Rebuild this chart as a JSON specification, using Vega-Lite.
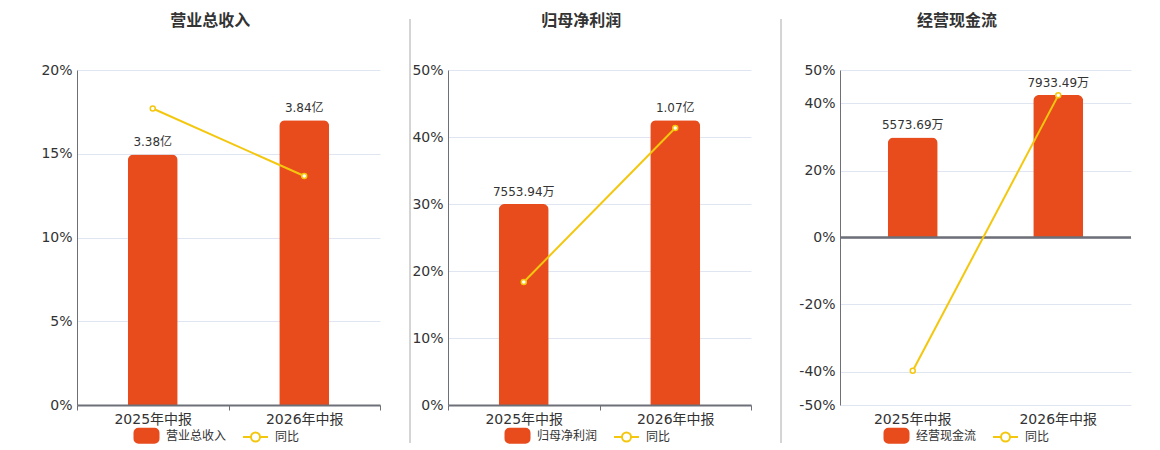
{
  "$schema": "https://vega.github.io/schema/vega-lite/v6.json",
  "background": "white",
  "padding": {"top": 13, "left": 40, "right": 0, "bottom": 0},
  "spacing": 0,
  "columns": 5,
  "align": "none",
  "config": {
    "font": "DejaVu Sans, Noto Sans CJK SC",
    "view": {"stroke": null},
    "title": {"font": "Noto Sans CJK SC", "fontSize": 16, "fontWeight": "bold", "color": "#333333", "anchor": "middle", "frame": "bounds", "offset": 34},
    "axis": {"labelFontSize": 14, "labelColor": "#333333", "title": null}
  },
  "resolve": {"scale": {"color": "independent"}, "legend": {"color": "independent"}},
  "concat": [
    {
      "title": "营业总收入",
      "width": 303,
      "height": 335,
      "data": {"values": [
        {"period": "2025年中报", "value": 3.38, "label": "3.38亿", "yoy": 0.177},
        {"period": "2026年中报", "value": 3.84, "label": "3.84亿", "yoy": 0.1367}
      ]},
      "layer": [
        {
          "layer": [
            {
              "mark": {"type": "bar", "size": 50, "color": "#E84B1C", "cornerRadiusTopLeft": 6, "cornerRadiusTopRight": 6},
              "encoding": {
                "x": {"field": "period", "type": "nominal", "sort": null, "scale": {"paddingInner": 0, "paddingOuter": 0},
                  "axis": {"labelAngle": 0, "domainColor": "#6E7079", "domainWidth": 2, "tickColor": "#6E7079", "tickSize": 5, "tickBand": "extent", "labelPadding": 2, "zindex": 1}},
                "y": {"field": "value", "type": "quantitative", "scale": {"domain": [0, 4.518], "nice": false}, "axis": null},
                "color": {"datum": "营业总收入", "scale": {"domain": ["营业总收入", "同比"], "range": ["#E84B1C", "#F4C70F"]},
                  "legend": {"title": null, "orient": "none", "legendX": 56, "legendY": 352, "direction": "horizontal", "labelFontSize": 12, "labelColor": "#333333", "labelFont": "Noto Sans CJK SC", "symbolSize": 625, "labelOffset": 6, "columnPadding": 12,
                    "encode": {"symbols": {"update": {
                      "shape": {"signal": "datum.value === '同比' ? 'M-1,0H-0.36M0.36,0H1M0.36,0A0.36,0.36,0,1,1,-0.36,0A0.36,0.36,0,1,1,0.36,0ZM0.36,0A0.36,0.36,0,1,0,-0.36,0A0.36,0.36,0,1,0,0.36,0Z' : 'M-0.64,-0.56H0.64A0.32,0.32,0,0,1,0.96,-0.24V0.24A0.32,0.32,0,0,1,0.64,0.56H-0.64A0.32,0.32,0,0,1,-0.96,0.24V-0.24A0.32,0.32,0,0,1,-0.64,-0.56Z'"},
                      "fill": {"signal": "datum.value === '同比' ? '#ffffff' : '#E84B1C'"},
                      "stroke": {"signal": "datum.value === '同比' ? '#F4C70F' : '#E84B1C'"},
                      "strokeWidth": {"value": 2},
                      "size": {"value": 625},
                      "opacity": {"value": 1}
                    }}}}}
              }
            },
            {
              "mark": {"type": "text", "dy": -5, "baseline": "bottom", "fontSize": 12, "color": "#333333"},
              "encoding": {
                "x": {"field": "period", "type": "nominal", "sort": null},
                "y": {"field": "value", "type": "quantitative"},
                "text": {"field": "label"}
              }
            }
          ]
        },
        {
          "mark": {"type": "line", "strokeWidth": 2, "point": {"filled": false, "fill": "white", "size": 25, "strokeWidth": 1.5}},
          "encoding": {
            "x": {"field": "period", "type": "nominal", "sort": null},
            "y": {"field": "yoy", "type": "quantitative", "scale": {"domain": [0, 0.2], "nice": false},
              "axis": {"orient": "left", "grid": true, "values": [0, 0.05, 0.1, 0.15, 0.2], "labelExpr": "round(datum.value * 100) + '%'", "ticks": false, "domainColor": "#6E7079", "gridColor": "#E0E6F1", "labelPadding": 5, "minExtent": 37}},
            "color": {"datum": "同比"}
          }
        }
      ],
      "resolve": {"scale": {"y": "independent"}}
    },
    {
      "width": 29,
      "height": 373,
      "data": {"values": [{"top": 1.1367, "bottom": 0}]},
      "mark": {"type": "rule", "color": "#AAAAAA", "strokeWidth": 1},
      "encoding": {
        "x": {"datum": 1, "type": "quantitative", "scale": {"domain": [0, 1], "nice": false}, "axis": null},
        "y": {"field": "top", "type": "quantitative", "scale": {"domain": [0, 1], "nice": false}, "axis": null},
        "y2": {"field": "bottom"}
      }
    },
    {
      "title": "归母净利润",
      "width": 303,
      "height": 335,
      "data": {"values": [
        {"period": "2025年中报", "value": 7553.94, "label": "7553.94万", "yoy": 0.1836},
        {"period": "2026年中报", "value": 10700, "label": "1.07亿", "yoy": 0.4134}
      ]},
      "layer": [
        {
          "layer": [
            {
              "mark": {"type": "bar", "size": 50, "color": "#E84B1C", "cornerRadiusTopLeft": 6, "cornerRadiusTopRight": 6},
              "encoding": {
                "x": {"field": "period", "type": "nominal", "sort": null, "scale": {"paddingInner": 0, "paddingOuter": 0},
                  "axis": {"labelAngle": 0, "domainColor": "#6E7079", "domainWidth": 2, "tickColor": "#6E7079", "tickSize": 5, "tickBand": "extent", "labelPadding": 2, "zindex": 1}},
                "y": {"field": "value", "type": "quantitative", "scale": {"domain": [0, 12588], "nice": false}, "axis": null},
                "color": {"datum": "归母净利润", "scale": {"domain": ["归母净利润", "同比"], "range": ["#E84B1C", "#F4C70F"]},
                  "legend": {"title": null, "orient": "none", "legendX": 56, "legendY": 352, "direction": "horizontal", "labelFontSize": 12, "labelColor": "#333333", "labelFont": "Noto Sans CJK SC", "symbolSize": 625, "labelOffset": 6, "columnPadding": 12,
                    "encode": {"symbols": {"update": {
                      "shape": {"signal": "datum.value === '同比' ? 'M-1,0H-0.36M0.36,0H1M0.36,0A0.36,0.36,0,1,1,-0.36,0A0.36,0.36,0,1,1,0.36,0ZM0.36,0A0.36,0.36,0,1,0,-0.36,0A0.36,0.36,0,1,0,0.36,0Z' : 'M-0.64,-0.56H0.64A0.32,0.32,0,0,1,0.96,-0.24V0.24A0.32,0.32,0,0,1,0.64,0.56H-0.64A0.32,0.32,0,0,1,-0.96,0.24V-0.24A0.32,0.32,0,0,1,-0.64,-0.56Z'"},
                      "fill": {"signal": "datum.value === '同比' ? '#ffffff' : '#E84B1C'"},
                      "stroke": {"signal": "datum.value === '同比' ? '#F4C70F' : '#E84B1C'"},
                      "strokeWidth": {"value": 2},
                      "size": {"value": 625},
                      "opacity": {"value": 1}
                    }}}}}
              }
            },
            {
              "mark": {"type": "text", "dy": -5, "baseline": "bottom", "fontSize": 12, "color": "#333333"},
              "encoding": {
                "x": {"field": "period", "type": "nominal", "sort": null},
                "y": {"field": "value", "type": "quantitative"},
                "text": {"field": "label"}
              }
            }
          ]
        },
        {
          "mark": {"type": "line", "strokeWidth": 2, "point": {"filled": false, "fill": "white", "size": 25, "strokeWidth": 1.5}},
          "encoding": {
            "x": {"field": "period", "type": "nominal", "sort": null},
            "y": {"field": "yoy", "type": "quantitative", "scale": {"domain": [0, 0.5], "nice": false},
              "axis": {"orient": "left", "grid": true, "values": [0, 0.1, 0.2, 0.3, 0.4, 0.5], "labelExpr": "round(datum.value * 100) + '%'", "ticks": false, "domainColor": "#6E7079", "gridColor": "#E0E6F1", "labelPadding": 5, "minExtent": 37}},
            "color": {"datum": "同比"}
          }
        }
      ],
      "resolve": {"scale": {"y": "independent"}}
    },
    {
      "width": 29,
      "height": 373,
      "data": {"values": [{"top": 1.1367, "bottom": 0}]},
      "mark": {"type": "rule", "color": "#AAAAAA", "strokeWidth": 1},
      "encoding": {
        "x": {"datum": 1, "type": "quantitative", "scale": {"domain": [0, 1], "nice": false}, "axis": null},
        "y": {"field": "top", "type": "quantitative", "scale": {"domain": [0, 1], "nice": false}, "axis": null},
        "y2": {"field": "bottom"}
      }
    },
    {
      "title": "经营现金流",
      "width": 291,
      "height": 335,
      "data": {"values": [
        {"period": "2025年中报", "value": 5573.69, "label": "5573.69万", "yoy": -0.398},
        {"period": "2026年中报", "value": 7933.49, "label": "7933.49万", "yoy": 0.4243}
      ]},
      "layer": [
        {
          "layer": [
            {
              "mark": {"type": "bar", "size": 50, "color": "#E84B1C", "cornerRadiusTopLeft": 6, "cornerRadiusTopRight": 6},
              "encoding": {
                "x": {"field": "period", "type": "nominal", "sort": null, "scale": {"paddingInner": 0, "paddingOuter": 0},
                  "axis": {"labelAngle": 0, "domain": false, "ticks": false, "labelPadding": 7}},
                "y": {"field": "value", "type": "quantitative", "scale": {"domain": [-9333.5, 9333.5], "nice": false}, "axis": null},
                "color": {"datum": "经营现金流", "scale": {"domain": ["经营现金流", "同比"], "range": ["#E84B1C", "#F4C70F"]},
                  "legend": {"title": null, "orient": "none", "legendX": 43, "legendY": 352, "direction": "horizontal", "labelFontSize": 12, "labelColor": "#333333", "labelFont": "Noto Sans CJK SC", "symbolSize": 625, "labelOffset": 6, "columnPadding": 12,
                    "encode": {"symbols": {"update": {
                      "shape": {"signal": "datum.value === '同比' ? 'M-1,0H-0.36M0.36,0H1M0.36,0A0.36,0.36,0,1,1,-0.36,0A0.36,0.36,0,1,1,0.36,0ZM0.36,0A0.36,0.36,0,1,0,-0.36,0A0.36,0.36,0,1,0,0.36,0Z' : 'M-0.64,-0.56H0.64A0.32,0.32,0,0,1,0.96,-0.24V0.24A0.32,0.32,0,0,1,0.64,0.56H-0.64A0.32,0.32,0,0,1,-0.96,0.24V-0.24A0.32,0.32,0,0,1,-0.64,-0.56Z'"},
                      "fill": {"signal": "datum.value === '同比' ? '#ffffff' : '#E84B1C'"},
                      "stroke": {"signal": "datum.value === '同比' ? '#F4C70F' : '#E84B1C'"},
                      "strokeWidth": {"value": 2},
                      "size": {"value": 625},
                      "opacity": {"value": 1}
                    }}}}}
              }
            },
            {
              "mark": {"type": "text", "dy": -5, "baseline": "bottom", "fontSize": 12, "color": "#333333"},
              "encoding": {
                "x": {"field": "period", "type": "nominal", "sort": null},
                "y": {"field": "value", "type": "quantitative"},
                "text": {"field": "label"}
              }
            }
          ]
        },
        {
          "layer": [
            {
              "mark": {"type": "rule", "color": "#6E7079", "strokeWidth": 2},
              "encoding": {
                "y": {"datum": 0, "type": "quantitative", "scale": {"domain": [-0.5, 0.5], "nice": false},
                  "axis": {"orient": "left", "grid": true, "values": [-0.5, -0.4, -0.2, 0, 0.2, 0.4, 0.5], "labelExpr": "round(datum.value * 100) + '%'", "ticks": false, "domainColor": "#6E7079", "gridColor": "#E0E6F1", "labelPadding": 5, "minExtent": 58}}
              }
            },
            {
              "mark": {"type": "line", "strokeWidth": 2, "point": {"filled": false, "fill": "white", "size": 25, "strokeWidth": 1.5}},
              "encoding": {
                "x": {"field": "period", "type": "nominal", "sort": null},
                "y": {"field": "yoy", "type": "quantitative"},
                "color": {"datum": "同比"}
              }
            }
          ]
        }
      ],
      "resolve": {"scale": {"y": "independent"}}
    }
  ]
}
